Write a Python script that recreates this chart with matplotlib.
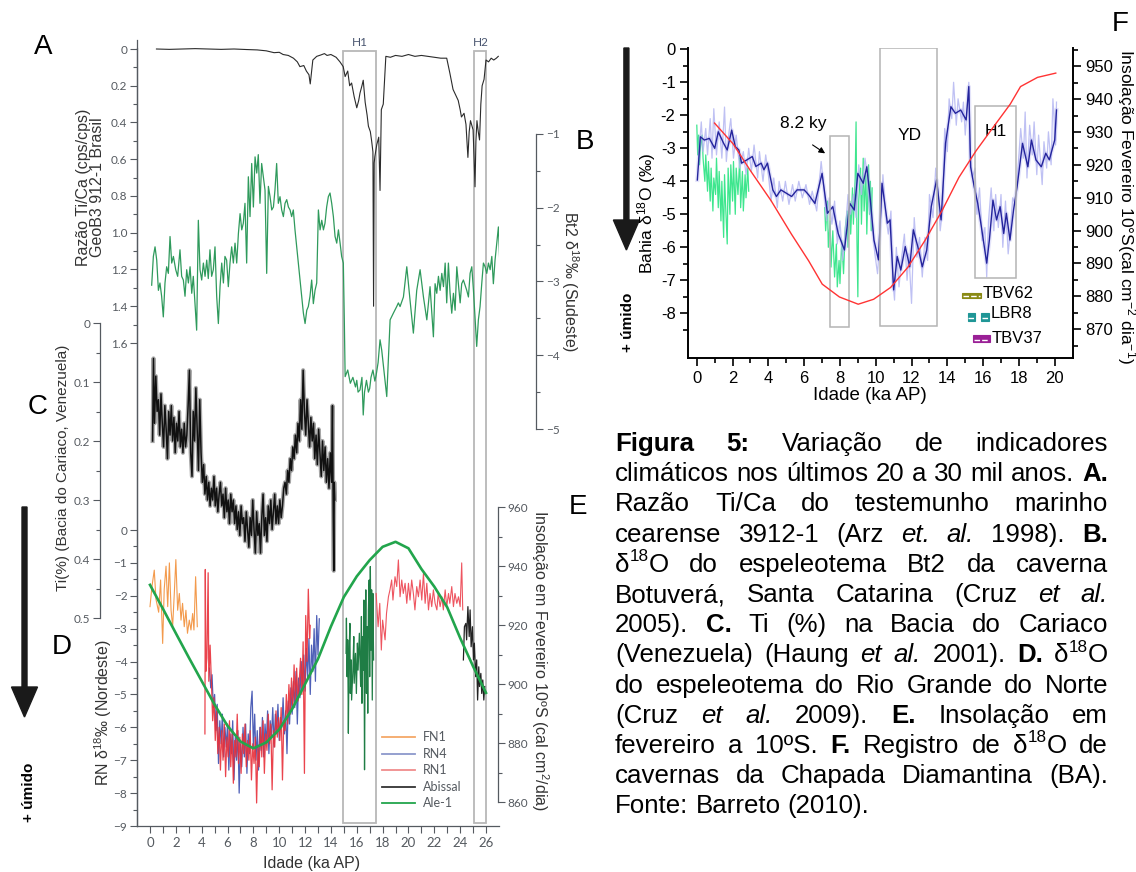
import numpy as np
import matplotlib
matplotlib.use("Agg")
import matplotlib.pyplot as plt
from matplotlib.patches import Rectangle, FancyArrow
from matplotlib.lines import Line2D
from matplotlib.transforms import blended_transform_factory
from matplotlib.font_manager import FontProperties

plt.rcParams['font.family'] = ['Liberation Sans', 'DejaVu Sans']
plt.rcParams['mathtext.fontset'] = 'custom'
plt.rcParams['mathtext.rm'] = 'Liberation Sans'
plt.rcParams['mathtext.it'] = 'Liberation Sans:italic'
plt.rcParams['mathtext.bf'] = 'Liberation Sans:bold'

# ======================= DATA =======================
# A: Ti/Ca GeoB3912-1 (age ka, cps/cps)
A_pts = [(0.5,0.0),(1.5,0.002),(2.5,0.0),(3.5,-0.002),(4.5,0.0),(5.5,0.002),(6.5,0.0),(7.5,0.003),
         (8.3,0.005),(9.0,0.01),(9.6,0.02),(10.0,0.018),(10.3,0.03),(10.7,0.035),(11.1,0.05),(11.4,0.07),
         (11.6,0.096),(11.9,0.09),(12.1,0.12),(12.3,0.14),(12.4,0.19),(12.6,0.06),(12.9,0.04),(13.2,0.033),
         (13.5,0.025),(13.7,0.035),(14.0,0.03),(14.4,0.045),(14.7,0.07),(14.95,0.096),(15.1,0.15),(15.3,0.12),
         (15.45,0.2),(15.6,0.185),(15.8,0.26),(16.0,0.32),(16.15,0.28),(16.25,0.24),(16.4,0.2),(16.5,0.17),
         (16.65,0.29),(16.8,0.36),(16.9,0.42),(17.05,0.45),(17.15,0.5),(17.25,0.56),(17.3,1.40),(17.35,0.62),
         (17.4,0.585),(17.55,0.52),(17.7,0.48),(17.8,0.77),(17.9,0.33),(18.05,0.3),(18.25,0.04),(18.6,0.045),
         (19.0,0.035),(19.5,0.04),(20.0,0.03),(20.5,0.04),(21.0,0.035),(21.5,0.04),(22.0,0.045),(22.5,0.05),
         (22.96,0.05),(23.2,0.13),(23.45,0.22),(23.65,0.25),(23.85,0.28),(24.0,0.33),(24.1,0.37),(24.3,0.35),
         (24.45,0.41),(24.6,0.59),(24.7,0.45),(24.8,0.39),(25.0,0.44),(25.08,0.6),(25.15,0.75),(25.22,0.5),
         (25.3,0.39),(25.4,0.45),(25.5,0.495),(25.6,0.3),(25.7,0.2),(25.85,0.165),(26.0,0.06),(26.2,0.07),
         (26.4,0.05),(26.6,0.06),(26.8,0.05),(26.95,0.04)]

# B: Bt2 d18O Botuvera (age ka, permil)
B_pts = [(0.13,-3.05),(0.26,-2.66),(0.39,-2.53),(0.52,-2.71),(0.65,-3.12),(0.77,-3.02),(0.9,-3.2),(1.03,-3.48),
         (1.16,-3.02),(1.29,-2.8),(1.42,-2.89),(1.55,-2.39),(1.68,-2.75),(1.81,-2.66),(1.99,-2.84),(2.14,-2.93),
         (2.32,-2.57),(2.45,-2.93),(2.58,-2.98),(2.71,-3.2),(2.84,-2.84),(2.97,-3.02),(3.1,-2.8),(3.23,-3.16),
         (3.35,-2.93),(3.48,-3.3),(3.61,-3.66),(3.74,-2.17),(3.87,-2.84),(4.0,-2.98),(4.13,-2.75),(4.26,-2.93),
         (4.39,-2.71),(4.51,-2.96),(4.64,-2.57),(4.77,-2.93),(4.9,-2.84),(5.03,-2.53),(5.16,-3.2),(5.29,-3.57),
         (5.42,-3.07),(5.55,-2.75),(5.68,-3.02),(5.8,-2.66),(5.93,-2.71),(6.06,-3.07),(6.19,-2.75),(6.32,-2.53),
         (6.45,-2.75),(6.58,-2.48),(6.71,-2.75),(6.84,-2.35),(6.97,-2.08),(7.1,-2.3),(7.22,-2.21),(7.35,-1.94),
         (7.48,-2.75),(7.61,-1.58),(7.74,-2.12),(7.87,-1.4),(8.0,-1.99),(8.13,-1.31),(8.26,-1.53),(8.38,-1.28),
         (8.51,-1.94),(8.64,-1.4),(8.77,-1.58),(8.9,-1.76),(9.03,-2.89),(9.16,-1.71),(9.29,-1.85),(9.42,-2.03),
         (9.55,-1.99),(9.67,-1.76),(9.8,-1.4),(9.93,-1.94),(10.06,-1.85),(10.19,-2.03),(10.32,-2.12),(10.45,-1.94),
         (10.58,-1.89),(10.71,-1.99),(10.84,-2.03),(10.96,-2.12),(11.09,-2.03),(11.22,-2.3),(11.35,-2.53),
         (11.48,-2.75),(11.61,-2.98),(11.74,-3.2),(11.87,-3.43),(12.0,-3.57),(12.13,-3.39),(12.25,-3.34),
         (12.38,-3.2),(12.51,-2.98),(12.64,-3.3),(12.77,-3.12),(12.9,-3.02),(13.03,-2.03),(13.16,-2.3),
         (13.29,-2.17),(13.42,-2.3),(13.54,-2.21),(13.67,-1.99),(13.8,-1.85),(13.93,-1.8),(14.06,-1.94),
         (14.19,-2.12),(14.32,-2.39),(14.45,-2.48),(14.58,-2.3),(14.71,-2.48),(14.83,-2.66),(14.96,-2.75),
         (15.04,-3.57),(15.1,-4.29),(15.3,-4.2),(15.5,-4.38),(15.7,-4.3),(15.9,-4.43),(16.0,-4.34),(16.1,-4.5),
         (16.25,-4.47),(16.4,-4.3),(16.5,-4.81),(16.6,-4.5),(16.75,-4.34),(16.9,-4.5),(17.0,-4.45),(17.1,-4.3),
         (17.25,-4.2),(17.4,-4.35),(17.5,-4.27),(17.65,-4.1),(17.8,-3.79),(17.93,-3.93),(18.1,-4.2),(18.32,-4.56),
         (18.58,-3.52),(18.83,-3.43),(19.09,-3.34),(19.22,-3.29),(19.35,-3.34),(19.61,-3.21),(19.87,-2.8),
         (20.12,-3.25),(20.38,-3.7),(20.64,-3.12),(20.9,-2.84),(21.16,-3.21),(21.42,-3.52),(21.67,-3.07),
         (21.93,-3.75),(22.06,-3.03),(22.19,-3.16),(22.32,-2.93),(22.45,-3.12),(22.58,-2.89),(22.71,-3.07),
         (22.84,-2.75),(22.96,-3.29),(23.09,-2.75),(23.22,-3.16),(23.35,-3.43),(23.48,-3.16),(23.61,-3.39),
         (23.74,-2.8),(24.0,-3.29),(24.12,-3.03),(24.25,-2.98),(24.51,-3.12),(24.64,-3.21),(24.77,-2.89),
         (24.9,-2.8),(25.03,-3.12),(25.15,-3.48),(25.28,-3.88),(25.41,-3.52),(25.54,-3.34),(25.67,-3.03),
         (25.8,-2.75),(25.93,-2.8),(26.06,-2.89),(26.19,-2.75),(26.32,-2.84),(26.45,-2.66),(26.57,-3.03),
         (26.7,-2.71),(26.83,-2.48),(26.96,-2.26),(27.09,-2.84)]

# C: Ti (%) Cariaco basin (age ka, %)
C_pts = [(0.2,0.2),(0.27,0.06),(0.35,0.17),(0.45,0.09),(0.55,0.15),(0.65,0.13),(0.75,0.19),(0.85,0.12),
         (0.95,0.17),(1.05,0.21),(1.15,0.14),(1.25,0.18),(1.35,0.23),(1.45,0.15),(1.55,0.19),(1.65,0.14),
         (1.75,0.2),(1.85,0.16),(1.95,0.22),(2.05,0.17),(2.15,0.2),(2.25,0.15),(2.35,0.21),(2.45,0.18),
         (2.55,0.22),(2.65,0.17),(2.75,0.21),(2.85,0.19),(2.95,0.14),(3.05,0.08),(3.15,0.22),(3.25,0.26),
         (3.35,0.15),(3.45,0.2),(3.55,0.11),(3.65,0.18),(3.75,0.25),(3.85,0.13),(3.95,0.22),(4.05,0.27),
         (4.15,0.24),(4.25,0.29),(4.35,0.26),(4.45,0.3),(4.55,0.27),(4.65,0.31),(4.75,0.28),(4.85,0.3),
         (4.95,0.26),(5.05,0.31),(5.15,0.28),(5.25,0.32),(5.35,0.29),(5.45,0.27),(5.55,0.31),(5.65,0.29),
         (5.75,0.33),(5.85,0.28),(5.95,0.32),(6.05,0.3),(6.15,0.34),(6.25,0.29),(6.35,0.32),(6.45,0.3),
         (6.55,0.34),(6.65,0.31),(6.75,0.35),(6.85,0.32),(6.95,0.36),(7.05,0.31),(7.15,0.34),(7.25,0.33),
         (7.35,0.37),(7.45,0.32),(7.55,0.35),(7.65,0.38),(7.75,0.33),(7.85,0.36),(7.95,0.3),(8.05,0.35),
         (8.15,0.39),(8.25,0.32),(8.35,0.36),(8.45,0.34),(8.55,0.39),(8.65,0.33),(8.75,0.29),(8.85,0.36),
         (8.95,0.33),(9.05,0.37),(9.15,0.31),(9.25,0.34),(9.35,0.3),(9.45,0.35),(9.55,0.32),(9.65,0.29),
         (9.75,0.34),(9.85,0.31),(9.95,0.34),(10.05,0.3),(10.15,0.33),(10.25,0.31),(10.35,0.28),(10.45,0.27),
         (10.55,0.29),(10.65,0.25),(10.75,0.27),(10.85,0.23),(10.95,0.25),(11.05,0.21),(11.15,0.23),
         (11.25,0.19),(11.35,0.22),(11.45,0.17),(11.55,0.2),(11.65,0.13),(11.75,0.18),(11.85,0.08),
         (11.95,0.15),(12.05,0.19),(12.15,0.13),(12.25,0.17),(12.35,0.21),(12.45,0.16),(12.55,0.2),
         (12.65,0.17),(12.75,0.23),(12.85,0.19),(12.95,0.24),(13.05,0.18),(13.15,0.22),(13.25,0.26),
         (13.35,0.2),(13.45,0.25),(13.55,0.21),(13.65,0.27),(13.75,0.23),(13.85,0.28),(13.95,0.22),
         (14.05,0.27),(14.12,0.14),(14.18,0.33),(14.22,0.42),(14.26,0.27),(14.3,0.3)]

# D: RN d18O records (age ka, permil)
FN1_pts = [(0.0,-2.33),(0.15,-1.72),(0.33,-1.22),(0.46,-2.1),(0.67,-2.5),(0.82,-1.52),(0.98,-3.45),
           (1.1,-1.8),(1.24,-1.1),(1.37,-2.33),(1.5,-1.0),(1.63,-2.44),(1.75,-2.94),(1.88,-1.93),(2.0,-0.9),
           (2.14,-2.44),(2.27,-1.93),(2.4,-2.74),(2.52,-2.23),(2.65,-2.94),(2.78,-2.44),(2.9,-3.14),
           (3.04,-2.74),(3.17,-3.04),(3.3,-2.54),(3.4,-3.04),(3.53,-1.42),(3.66,-2.94)]
RN4_pts = [(4.6,-4.2),(4.7,-4.8),(4.8,-4.4),(4.9,-5.4),(5.0,-5.0),(5.1,-6.1),(5.2,-5.3),(5.3,-7.1),(5.4,-5.8),
           (5.5,-6.5),(5.6,-5.6),(5.7,-6.9),(5.8,-6.0),(5.9,-6.6),(6.0,-5.9),(6.1,-7.3),(6.2,-6.2),(6.3,-6.8),
           (6.4,-5.8),(6.5,-7.6),(6.6,-6.3),(6.7,-7.0),(6.8,-6.1),(6.9,-8.0),(7.0,-6.5),(7.1,-7.2),(7.2,-6.0),
           (7.3,-6.9),(7.4,-5.9),(7.5,-7.4),(7.6,-6.2),(7.7,-6.8),(7.8,-5.4),(7.9,-4.9),(8.0,-6.6),(8.1,-5.6),
           (8.2,-7.0),(8.3,-6.1),(8.4,-7.3),(8.5,-6.0),(8.6,-6.7),(8.7,-5.7),(8.8,-6.9),(8.9,-5.9),(9.0,-6.5),
           (9.1,-5.5),(9.2,-6.8),(9.3,-5.8),(9.4,-6.3),(9.5,-5.4),(9.6,-6.6),(9.7,-5.6),(9.8,-6.2),(9.9,-5.3),
           (10.0,-6.4),(10.1,-5.7),(10.2,-6.0),(10.3,-5.1),(10.4,-6.2),(10.5,-5.5),(10.6,-6.8),(10.7,-5.2),
           (10.8,-5.9),(10.9,-4.8),(11.0,-5.6),(11.1,-4.6),(11.2,-5.4),(11.3,-4.3),(11.4,-5.9),(11.5,-4.5),
           (11.6,-5.1),(11.7,-4.0),(11.8,-4.8),(11.9,-3.8),(12.0,-4.9),(12.1,-3.6),(12.2,-4.5),(12.3,-3.3),
           (12.4,-5.0),(12.5,-3.5),(12.6,-4.3),(12.7,-3.0),(12.8,-4.6),(12.9,-2.6),(13.0,-3.8),(13.1,-2.7)]
RN1_holo = [(4.25,-6.2),(4.28,-1.2),(4.32,-4.3),(4.4,-3.9),(4.5,-1.3),(4.55,-4.6),(4.65,-3.5),(4.75,-4.6),
            (4.85,-5.8),(4.95,-5.1),(5.05,-6.4),(5.15,-5.5),(5.25,-6.8),(5.35,-6.0),(5.45,-7.3),(5.55,-6.1),
            (5.65,-7.0),(5.75,-5.9),(5.85,-7.5),(5.95,-6.3),(6.05,-6.9),(6.15,-5.8),(6.25,-7.2),(6.35,-6.2),
            (6.45,-7.7),(6.55,-6.4),(6.65,-6.9),(6.75,-5.6),(6.85,-7.1),(6.95,-6.3),(7.05,-7.4),(7.15,-6.2),
            (7.25,-6.8),(7.35,-5.9),(7.45,-7.2),(7.55,-6.4),(7.65,-7.0),(7.75,-6.1),(7.85,-7.6),(7.95,-6.5),
            (8.05,-7.1),(8.15,-6.3),(8.25,-8.3),(8.35,-6.6),(8.45,-7.2),(8.55,-6.0),(8.65,-6.9),(8.75,-5.8),
            (8.85,-7.4),(8.95,-6.2),(9.05,-6.7),(9.15,-5.6),(9.25,-6.5),(9.35,-5.9),(9.45,-7.9),(9.55,-6.1),
            (9.65,-6.6),(9.75,-5.5),(9.85,-6.3),(9.95,-5.7),(10.05,-6.4),(10.15,-5.4),(10.25,-7.6),(10.35,-5.8),
            (10.45,-6.1),(10.55,-5.0),(10.65,-5.9),(10.75,-4.7),(10.85,-5.6),(10.95,-4.5),(11.05,-5.4),
            (11.15,-4.1),(11.25,-5.2),(11.35,-4.2),(11.45,-5.2),(11.55,-4.6),(11.65,-3.9),(11.75,-5.0),
            (11.85,-3.4),(11.95,-7.4),(12.05,-2.6),(12.15,-4.0),(12.25,-1.8),(12.35,-3.3),(12.4,-2.9)]
RN1_glac = [(17.5,-1.93),(17.65,-2.94),(17.78,-2.23),(17.9,-3.65),(18.0,-2.74),(18.19,-3.34),(18.3,-2.54),
            (18.45,-2.03),(18.57,-1.82),(18.7,-1.52),(18.8,-2.13),(18.96,-1.42),(19.09,-1.72),(19.22,-0.91),
            (19.35,-2.03),(19.48,-1.52),(19.6,-1.93),(19.74,-1.62),(19.87,-2.23),(20.0,-1.62),(20.12,-2.13),
            (20.25,-1.52),(20.38,-1.93),(20.5,-2.43),(20.64,-1.72),(20.77,-2.03),(20.9,-1.52),(21.03,-2.13),
            (21.16,-1.32),(21.29,-2.23),(21.42,-1.62),(21.55,-2.43),(21.67,-1.93),(21.8,-2.33),(21.93,-1.82),
            (22.06,-2.23),(22.2,-2.43),(22.3,-1.93),(22.45,-2.33),(22.58,-2.03),(22.7,-2.43),(22.84,-1.82),
            (22.96,-2.33),(23.1,-1.93),(23.2,-2.23),(23.35,-1.72),(23.48,-2.33),(23.6,-1.93),(23.74,-2.23),
            (23.87,-2.03),(24.0,-2.33),(24.12,-1.0),(24.2,-2.43)]
Abissal_pts = [(24.25,-3.95),(24.33,-2.94),(24.44,-2.84),(24.5,-3.34),(24.6,-2.33),(24.7,-3.24),(24.77,-2.43),
               (24.85,-3.55),(24.95,-2.94),(25.03,-3.95),(25.1,-3.44),(25.2,-4.46),(25.28,-3.95),(25.35,-5.17),
               (25.44,-4.16),(25.5,-4.76),(25.6,-4.36),(25.67,-4.97),(25.75,-4.56),(25.83,-5.17),(25.9,-4.76)]
Ale1_pts = [(15.17,-3.75),(15.2,-2.68),(15.25,-4.46),(15.3,-3.34),(15.35,-6.18),(15.4,-3.85),(15.47,-2.84),
            (15.5,-4.97),(15.57,-3.95),(15.6,-5.17),(15.7,-4.26),(15.77,-3.24),(15.8,-4.66),(15.9,-3.75),
            (15.97,-4.97),(16.05,-3.44),(16.1,-4.26),(16.2,-3.14),(16.3,-4.76),(16.36,-2.63),(16.4,-5.27),
            (16.45,-3.24),(16.5,-4.26),(16.55,-2.13),(16.6,-7.29),(16.65,-3.75),(16.7,-1.82),(16.75,-4.97),
            (16.8,-2.94),(16.85,-5.57),(16.9,-2.43),(16.96,-1.52),(17.0,-4.46),(17.05,-1.11),(17.1,-3.65),
            (17.15,-1.82),(17.2,-5.17),(17.25,-1.93),(17.3,-3.95)]
# E: February insolation 10S (cal cm-2 day-1)
E_pts = [(0,933.6),(1,925.5),(2,917.2),(3,909),(4,901),(5,893),(6,885.8),(7,880.5),(8,878.2),(9,880.2),
         (10,884.6),(11,891.5),(12,900),(13,908.5),(14,919.5),(15,929.5),(16,936.5),(17,942),(18,946.5),
         (19,948.2),(20,946),(21,939),(22,933),(23,926),(24,915.6),(25,906),(26,897)]

# F: Bahia speleothems
F_blue = [(0.03,-3.96),(0.2,-2.65),(0.42,-2.75),(0.7,-2.7),(1.0,-3.0),(1.2,-2.5),(1.5,-2.85),(1.7,-3.05),
          (1.95,-2.45),(2.15,-2.95),(2.35,-3.05),(2.5,-3.45),(2.8,-3.35),(3.1,-3.25),(3.3,-3.55),(3.6,-3.45),
          (3.75,-3.65),(3.95,-3.45),(4.25,-4.26),(4.45,-4.46),(4.7,-4.26),(5.0,-4.36),(5.3,-4.46),(5.6,-4.26),
          (6.0,-4.26),(6.25,-4.41),(6.6,-4.67),(7.0,-3.76),(7.3,-4.97),(7.6,-4.77),(7.9,-5.58),(8.25,-6.08),
          (8.55,-4.67),(8.8,-4.87),(9.0,-3.76),(9.3,-4.06),(9.5,-3.56),(9.7,-4.57),(9.9,-5.78),(10.15,-6.38),
          (10.35,-4.06),(10.65,-5.27),(10.8,-5.17),(11.0,-7.29),(11.2,-6.28),(11.4,-6.69),(11.65,-5.98),
          (11.9,-6.59),(12.1,-5.47),(12.35,-5.98),(12.6,-6.59),(12.85,-6.08),(13.1,-4.77),(13.4,-3.96),
          (13.65,-5.17),(13.9,-2.85),(14.2,-1.74),(14.45,-1.94),(14.75,-1.84),(15.05,-2.14),(15.2,-1.13),
          (15.3,-3.56),(15.5,-4.16),(15.7,-4.67),(15.9,-5.37),(16.2,-6.48),(16.35,-5.78),(16.55,-4.57),
          (16.75,-5.17),(16.95,-4.77),(17.15,-5.58),(17.3,-4.97),(17.5,-5.78),(17.7,-4.87),(17.9,-4.16),
          (18.2,-2.85),(18.5,-3.56),(18.7,-2.75),(18.95,-3.35),(19.25,-3.56),(19.5,-3.15),(19.7,-3.35),
          (20.0,-2.75),(20.1,-1.84)]
F_blue_raw = [(0.1,-3.3),(0.25,-2.2),(0.35,-3.1),(0.5,-2.4),(0.6,-3.2),(0.75,-2.1),(0.85,-3.3),(0.95,-1.8),
              (1.1,-3.2),(1.25,-2.2),(1.4,-3.3),(1.55,-1.75),(1.65,-3.4),(1.8,-2.5),(1.9,-2.1),(2.05,-3.3),
              (2.2,-2.6),(2.4,-3.6),(2.6,-3.1),(2.75,-3.8),(2.9,-3.0),(3.05,-3.7),(3.2,-2.9),(3.4,-3.9),
              (3.5,-3.1),(3.7,-4.0),(3.85,-3.2),(4.0,-3.8),(4.15,-4.6),(4.3,-3.9),(4.5,-4.8),(4.6,-4.0),
              (4.8,-4.6),(4.95,-4.0),(5.15,-4.7),(5.35,-4.1),(5.5,-4.6),(5.7,-4.0),(5.9,-4.5),(6.1,-4.1),
              (6.3,-4.7),(6.45,-4.3),(6.7,-4.9),(6.85,-4.0),(6.95,-3.4),(7.1,-4.2),(7.25,-5.2),(7.4,-4.5),
              (7.55,-5.3),(7.7,-4.6),(7.85,-5.9),(8.0,-5.2),(8.15,-6.4),(8.3,-5.5),(8.45,-4.4),(8.6,-5.0),
              (8.75,-4.4),(8.9,-5.1),(9.05,-3.5),(9.2,-4.4),(9.4,-3.3),(9.55,-3.9),(9.65,-4.9),(9.8,-5.3),
              (9.95,-6.2),(10.1,-6.8),(10.25,-5.6),(10.4,-3.8),(10.55,-5.0),(10.7,-5.6),(10.85,-4.9),
              (10.95,-7.0),(11.05,-7.6),(11.15,-6.0),(11.3,-7.2),(11.45,-6.3),(11.6,-5.6),(11.75,-7.0),
              (11.85,-6.2),(12.0,-7.7),(12.15,-5.1),(12.3,-6.3),(12.45,-5.7),(12.6,-6.9),(12.75,-5.7),
              (12.9,-6.4),(13.0,-4.4),(13.2,-5.1),(13.35,-3.6),(13.5,-4.4),(13.6,-5.5),(13.75,-4.8),
              (13.85,-2.4),(14.0,-3.1),(14.1,-1.5),(14.25,-2.1),(14.35,-1.0),(14.5,-2.3),(14.6,-1.5),
              (14.8,-2.2),(14.9,-1.6),(15.0,-2.6),(15.1,-1.9),(15.2,-1.0),(15.25,-3.0),(15.4,-3.9),
              (15.55,-3.6),(15.65,-5.0),(15.8,-4.2),(15.95,-5.8),(16.1,-5.4),(16.2,-6.9),(16.3,-5.2),
              (16.45,-4.2),(16.6,-5.5),(16.7,-4.4),(16.85,-5.4),(17.0,-4.4),(17.1,-6.0),(17.25,-4.6),
              (17.4,-6.2),(17.55,-5.3),(17.65,-4.5),(17.8,-4.7),(17.95,-3.6),(18.1,-2.4),(18.25,-3.3),
              (18.35,-1.9),(18.45,-3.9),(18.6,-2.3),(18.75,-3.2),(18.85,-2.2),(19.0,-3.8),(19.1,-2.6),
              (19.3,-4.1),(19.4,-2.8),(19.55,-3.6),(19.65,-2.5),(19.8,-3.5),(19.9,-1.5),(20.05,-2.9),(20.1,-1.6)]
F_green_a = [(0.0,-2.3),(0.05,-3.2),(0.1,-2.6),(0.15,-3.5),(0.2,-3.0),(0.3,-2.6),(0.35,-3.3),(0.45,-4.0),
             (0.5,-3.2),(0.6,-4.3),(0.65,-3.4),(0.75,-4.6),(0.8,-3.6),(0.9,-4.9),(0.95,-3.9),(1.05,-4.4),
             (1.1,-3.3),(1.2,-4.8),(1.25,-3.7),(1.35,-5.2),(1.4,-4.0),(1.5,-5.7),(1.55,-3.8),(1.6,-4.6),
             (1.7,-5.9),(1.75,-3.6),(1.85,-5.0),(1.9,-3.5),(2.0,-4.6),(2.05,-3.4),(2.15,-5.0),(2.2,-3.6),
             (2.3,-4.4),(2.4,-3.3),(2.45,-4.8),(2.55,-3.7),(2.6,-4.9),(2.7,-3.8),(2.75,-4.5),(2.85,-3.6),(2.9,-4.3)]
F_green_b = [(7.15,-4.8),(7.2,-5.5),(7.3,-4.6),(7.35,-6.0),(7.45,-5.2),(7.5,-6.6),(7.6,-5.5),(7.7,-6.9),
             (7.8,-5.9),(7.85,-7.2),(7.95,-6.4),(8.0,-7.1),(8.1,-5.8),(8.2,-6.8),(8.3,-5.4),(8.4,-4.9),
             (8.45,-6.0),(8.55,-4.6),(8.6,-5.6),(8.7,-4.2),(8.75,-5.3),(8.85,-3.9),(8.9,-2.2),(8.95,-5.8),
             (9.0,-7.5),(9.05,-4.6),(9.15,-3.6),(9.2,-5.3),(9.3,-3.3),(9.35,-4.9),(9.45,-3.8),(9.5,-5.6),
             (9.6,-3.5),(9.65,-5.0),(9.7,-4.0),(9.75,-5.5),(9.8,-4.2)]
F_insol = [(0.99,932.7),(2.04,926.3),(3.0,918.2),(4.15,909.1),(5.29,898.9),(6.25,890.8),(7.01,883.7),
           (7.97,879.8),(9.02,877.6),(9.88,879.1),(10.83,882.7),(11.79,888.8),(12.74,896.9),(13.7,906.0),
           (14.65,916.2),(15.61,924.3),(16.56,931.4),(17.52,938.5),(18.09,943.8),(19.04,946.6),(20.06,947.9)]

left_xticks = list(range(0, 27, 2))
F_xticks = list(range(0, 21, 2))

# ======================= FIGURE =======================
W, H = 1136, 872
fig = plt.figure(figsize=(W / 100, H / 100), dpi=100)
fig.patch.set_facecolor('white')


def frect(x0, y0, x1, y1):
    return [x0 / W, 1 - y1 / H, (x1 - x0) / W, (y1 - y0) / H]


def lin(v0, p0, v1, p1, p):
    return v0 + (p - p0) * (v1 - v0) / (p1 - p0)


def xy(pts):
    return [p[0] for p in pts], [p[1] for p in pts]


def blank(rect, xlim, ylim):
    ax = fig.add_axes(rect)
    ax.set_xlim(*xlim)
    ax.set_ylim(*ylim)
    ax.patch.set_visible(False)
    for s in ax.spines.values():
        s.set_visible(False)
    ax.tick_params(which='both', left=False, right=False, top=False, bottom=False,
                   labelleft=False, labelright=False, labelbottom=False, labeltop=False)
    return ax


TC = '#555a60'
TFONT = ['Lato', 'DejaVu Sans']


def style_y(ax, side, major, labels, minor, pos=None, bounds=None, size=8.5):
    sp = ax.spines[side]
    sp.set_visible(True)
    sp.set_color(TC)
    sp.set_linewidth(0.9)
    if pos is not None:
        sp.set_position(('axes', pos))
    if bounds is not None:
        sp.set_bounds(*bounds)
    ax.set_yticks(major, labels)
    ax.set_yticks(minor, minor=True)
    kw = dict(left=True, labelleft=True) if side == 'left' else dict(right=True, labelright=True)
    ax.tick_params(axis='y', which='both', direction='out', color=TC, labelcolor=TC,
                   labelsize=size, width=0.8, **kw)
    ax.tick_params(axis='y', which='major', length=5, pad=2)
    ax.tick_params(axis='y', which='minor', length=3)
    for t in ax.get_yticklabels():
        t.set_family(TFONT)


# ---------- left composite panel ----------
LX0, LX1, LY0, LY1 = 137, 499, 40, 826
xlimL = (lin(0, 150, 26, 486, LX0), lin(0, 150, 26, 486, LX1))
rectL = frect(LX0, LY0, LX1, LY1)


def ylim_of(v0, p0, v1, p1):
    return (lin(v0, p0, v1, p1, LY1), lin(v0, p0, v1, p1, LY0))


M = '\u2212'

# D axis (base, with bottom age axis)
axD = blank(rectL, xlimL, ylim_of(0, 530, -9, 826))
style_y(axD, 'left', list(range(0, -10, -1)), ['0'] + [M + str(i) for i in range(1, 10)],
        [-0.5 - i for i in range(9)], bounds=(-9, lin(0, 530, -9, 826, 48)))
axD.spines['bottom'].set_visible(True)
axD.spines['bottom'].set_color(TC)
axD.spines['bottom'].set_linewidth(0.9)
axD.set_xticks(left_xticks, [str(v) for v in left_xticks])
axD.set_xticks(list(range(1, 27, 2)), minor=True)
axD.tick_params(axis='x', which='both', bottom=True, labelbottom=True, direction='out', color=TC,
                labelcolor=TC, labelsize=9.5, width=0.8, length=5, pad=3)
for t in axD.get_xticklabels():
    t.set_family(TFONT)

# H1 / H2 boxes
bt = blended_transform_factory(axD.transData, axD.transAxes)
yb, yt = (LY1 - 823) / (LY1 - LY0), (LY1 - 51) / (LY1 - LY0)
for (x0, x1) in [(14.94, 17.49), (25.08, 26.0)]:
    axD.add_patch(Rectangle((x0, yb), x1 - x0, yt - yb, transform=bt, fill=False,
                            edgecolor='#b8b8b8', lw=1.3, zorder=0, clip_on=False))

ax = axD
x, y = xy(FN1_pts); ax.plot(x, y, color='#f39a4c', lw=0.8)
x, y = xy(RN4_pts); ax.plot(x, y, color='#3c4fb0', lw=0.9, alpha=0.9)
x, y = xy(RN1_holo); ax.plot(x, y, color='#e8303a', lw=0.9, alpha=0.9)
x, y = xy(RN1_glac); ax.plot(x, y, color='#ee5560', lw=0.8)
x, y = xy(Ale1_pts); ax.plot(x, y, color='#1f7d45', lw=0.9)
x, y = xy(Abissal_pts); ax.plot(x, y, color='#222222', lw=0.9)

# C axis
axC = blank(rectL, xlimL, ylim_of(0, 323, 0.5, 618))
style_y(axC, 'left', [0, 0.1, 0.2, 0.3, 0.4, 0.5], ['0', '0.1', '0.2', '0.3', '0.4', '0.5'],
        [0.05, 0.15, 0.25, 0.35, 0.45], pos=(100 - LX0) / (LX1 - LX0), bounds=(0, 0.5))
x, y = xy(C_pts)
axC.plot(x, y, color='#8a8a8a', lw=3.0, alpha=0.75)
axC.plot(x, y, color='#111111', lw=1.1)

# A axis
axA = blank(rectL, xlimL, ylim_of(0, 49, 1.6, 343))
style_y(axA, 'left', [0, 0.2, 0.4, 0.6, 0.8, 1.0, 1.2, 1.4, 1.6],
        ['0', '0.2', '0.4', '0.6', '0.8', '1.0', '1.2', '1.4', '1.6'],
        [0.1, 0.3, 0.5, 0.7, 0.9, 1.1, 1.3, 1.5])
x, y = xy(A_pts)
axA.plot(x, y, color='#2b2b2b', lw=0.8)

# B axis
axB = blank(rectL, xlimL, ylim_of(-1, 134, -5, 429))
style_y(axB, 'right', [-1, -2, -3, -4, -5], [M + str(i) for i in range(1, 6)],
        [-1.5, -2.5, -3.5, -4.5], pos=(536 - LX0) / (LX1 - LX0), bounds=(-5, -1))
x, y = xy(B_pts)
axB.plot(x, y, color='#2f9a5c', lw=0.9)

# E axis
axE = blank(rectL, xlimL, ylim_of(960, 507, 860, 802))
style_y(axE, 'right', [960, 940, 920, 900, 880, 860], ['960', '940', '920', '900', '880', '860'],
        [950, 930, 910, 890, 870], pos=(498 - LX0) / (LX1 - LX0), bounds=(860, 960))
x, y = xy(E_pts)
axE.plot(x, y, color='#22a54c', lw=1.9)


def ftext(px, py, s, **kw):
    return fig.text(px / W, 1 - py / H, s, **kw)


# legend (manual, D panel)
leg = [('FN1', '#f5a868'), ('RN4', '#8c98cc'), ('RN1', '#f08c8c'), ('Abissal', '#333333'), ('Ale-1', '#22a54c')]
for i, (lab, col) in enumerate(leg):
    yy = 737 + i * 16.5
    fig.add_artist(Line2D([382 / W, 415 / W], [1 - yy / H] * 2, color=col, lw=1.3))
    ftext(423, yy, lab, fontsize=9, color=TC, va='center', ha='left', family=TFONT)

# labels for left panel
LBL = '#333333'
ftext(360, 42, 'H1', fontsize=8.5, color='#4a5670', ha='center', va='center', family=TFONT)
ftext(481, 42, 'H2', fontsize=8.5, color='#4a5670', ha='center', va='center', family=TFONT)
ftext(90.5, 187, 'Razão Ti/Ca (cps/cps)\nGeoB3 912-1 Brasil', fontsize=11.5, rotation=90,
      ha='center', va='center', color=LBL, linespacing=0.95)
ftext(570, 282, 'Bt2 δ$^{18}$‰ (Sudeste)', fontsize=11.5, rotation=-90, ha='center', va='center', color=LBL)
ftext(63, 468, 'Ti(%) (Bacia do Cariaco, Venezuela)', fontsize=11, rotation=90, ha='center', va='center', color=LBL)
ftext(103.5, 713, 'RN δ$^{18}$‰ (Nordeste)', fontsize=11.5, rotation=90, ha='center', va='center', color=LBL)
ftext(540, 660, 'Insolação em Fevereiro 10ºS (cal cm$^{2}$/dia)', fontsize=11.5, rotation=-90,
      ha='center', va='center', color=LBL)
ftext(312, 863, 'Idade (ka AP)', fontsize=11.5, ha='center', va='center', color=LBL)

for s, px, py in [('A', 43, 47), ('B', 585, 142), ('C', 38, 407), ('D', 62, 647), ('E', 578, 507), ('F', 1120, 24)]:
    ftext(px, py, s, fontsize=20, ha='center', va='center', color='black')

# wet arrows
def wet_arrow(xc, ytop, ytip, head_w=26, head_l=30, shaft=5):
    fig.add_artist(FancyArrow(xc / 100, (H - ytop) / 100, 0, -(ytip - ytop) / 100, width=shaft / 100,
                              head_width=head_w / 100, head_length=head_l / 100, length_includes_head=True,
                              color='#1a1a1a', transform=fig.dpi_scale_trans))

wet_arrow(24.5, 507, 717)
ftext(29, 792, '+ úmido', fontsize=11, fontweight='bold', rotation=90, ha='center', va='center')
wet_arrow(626.4, 48, 250)
ftext(628, 322, '+ úmido', fontsize=11, fontweight='bold', rotation=90, ha='center', va='center')

# ---------- panel F ----------
FX0, FX1, FY0, FY1 = 688, 1073, 48, 358
axF = fig.add_axes(frect(FX0, FY0, FX1, FY1))
axF.set_xlim(lin(0, 696.8, 20, 1054.7, FX0), lin(0, 696.8, 20, 1054.7, FX1))
axF.set_ylim(lin(0, 49.3, -8, 313.3, FY1), lin(0, 49.3, -8, 313.3, FY0))
axF.patch.set_visible(False)
axF.spines['top'].set_visible(False)
axF.spines['right'].set_visible(False)
for s in ('left', 'bottom'):
    axF.spines[s].set_linewidth(1.4)
axF.set_xticks(F_xticks, [str(v) for v in F_xticks])
axF.set_xticks(list(range(1, 21, 2)), minor=True)
axF.set_yticks(list(range(0, -9, -1)), ['0'] + ['-' + str(i) for i in range(1, 9)])
axF.set_yticks([-0.5 - i for i in range(9)], minor=True)
axF.tick_params(which='both', direction='out', width=1.2, labelsize=12)
axF.tick_params(which='major', length=6, pad=3)
axF.tick_params(which='minor', length=3.5)

axF2 = axF.twinx()
axF2.set_ylim(lin(950, 66.2, 870, 329.2, FY1), lin(950, 66.2, 870, 329.2, FY0))
for s in ('top', 'left', 'bottom'):
    axF2.spines[s].set_visible(False)
axF2.spines['right'].set_linewidth(1.4)
axF2.set_yticks(list(range(870, 951, 10)), [str(v) for v in range(870, 951, 10)])
axF2.set_yticks(list(range(865, 956, 10)), minor=True)
axF2.tick_params(which='both', direction='out', width=1.2, labelsize=12)
axF2.tick_params(which='major', length=6, pad=3)
axF2.tick_params(which='minor', length=3.5)

x, y = xy(F_green_a); axF.plot(x, y, color='#3ee68e', lw=0.9)
x, y = xy(F_green_b); axF.plot(x, y, color='#3ee68e', lw=0.9)
x, y = xy(F_blue_raw)
axF.plot(x, y, color='#b4b6f2', lw=0.9, alpha=0.85)
x, y = xy(F_blue)
axF.plot(x, y, color='#a8a8f0', lw=3.0, alpha=0.3, solid_joinstyle='round')
axF.plot(x, y, color='#24249c', lw=1.0)
x, y = xy(F_insol)
axF2.plot(x, y, color='#ff3333', lw=1.0)

for (x0, x1, y0, y1) in [(7.45, 8.48, -8.42, -2.63), (10.26, 13.41, -8.38, 0.05), (15.57, 17.86, -6.92, -1.72)]:
    axF.add_patch(Rectangle((x0, y0), x1 - x0, y1 - y0, fill=False, edgecolor='#b4b4b4', lw=1.1, zorder=3))
axF.text(5.96, -2.24, '8.2 ky', fontsize=12.5, ha='center', va='center')
axF.text(11.9, -2.6, 'YD', fontsize=12.5, ha='center', va='center')
axF.text(16.7, -2.5, 'H1', fontsize=12.5, ha='center', va='center')
axF.annotate('', xy=(7.3, -3.2), xytext=(6.34, -2.85),
             arrowprops=dict(arrowstyle='-|>', color='black', lw=0.8, mutation_scale=9))

bars = [('TBV62', '#8a8a14', [(14.8, 15.86)], -7.55, -7.37, -7.4),
        ('LBR8', '#1f9696', [(15.13, 15.57), (15.86, 16.31)], -8.22, -8.0, -8.0),
        ('TBV37', '#9a2096', [(15.42, 16.37)], -8.88, -8.66, -8.76)]
for name, col, spans, y0, y1, ty in bars:
    for (a, b) in spans:
        axF.add_patch(Rectangle((a, y0), b - a, y1 - y0, facecolor=col, edgecolor=col, lw=0.8, zorder=4))
        axF.plot([a + 0.05, b - 0.05], [y0 + (y1 - y0) * 0.35] * 2, color='white', lw=1.0,
                 dashes=(4, 1.5), zorder=5)
    axF.text(spans[-1][1] + 0.1, ty, name, fontsize=12, ha='left', va='center')

ftext(647, 213, 'Bahia δ$^{18}$O (‰)', fontsize=12.5, rotation=90, ha='center', va='center')
ftext(1126, 206, 'Insolação Fevereiro 10°S(cal cm$^{-2}$ dia$^{-1}$)', fontsize=12.5, rotation=-90,
      ha='center', va='center')
ftext(870, 395, 'Idade (ka AP)', fontsize=13.5, ha='center', va='center')

# ---------- caption (justified) ----------
cap_lines = [
    "**Figura** **5:** Variação de indicadores",
    "climáticos nos últimos 20 a 30 mil anos. **A.**",
    "Razão Ti/Ca do testemunho marinho",
    "cearense 3912-1 (Arz *et.* *al.* 1998). **B.**",
    "δ^18^O do espeleotema Bt2 da caverna",
    "Botuverá, Santa Catarina (Cruz *et* *al.*",
    "2005). **C.** Ti (%) na Bacia do Cariaco",
    "(Venezuela) (Haung *et* *al.* 2001). **D.** δ^18^O",
    "do espeleotema do Rio Grande do Norte",
    "(Cruz *et* *al.* 2009). **E.** Insolação em",
    "fevereiro a 10ºS. **F.** Registro de δ^18^O de",
    "cavernas da Chapada Diamantina (BA).",
    "Fonte: Barreto (2010).",
]
CAP_L, CAP_R, CAP_Y0, CAP_DY = 615, 1108, 451, 30.2

renderer = fig.canvas.get_renderer()


def prop(style, fs):
    return FontProperties(family='Liberation Sans', size=fs * (0.66 if style == 'sup' else 1.0),
                          weight='bold' if style == 'b' else 'normal',
                          style='italic' if style == 'i' else 'normal')


def seg_w(text, style, fs):
    w, h, d = renderer.get_text_width_height_descent(text, prop(style, fs), ismath=False)
    return w


def parse(word):
    if word.startswith('**'):
        return [(word[2:-2], 'b')]
    if word.startswith('*'):
        return [(word[1:-1], 'i')]
    if '^' in word:
        a, b, c = word.split('^')
        segs = []
        if a:
            segs.append((a, 'n'))
        segs.append((b, 'sup'))
        if c:
            segs.append((c, 'n'))
        return segs
    return [(word, 'n')]


def word_w(segs, fs):
    return sum(seg_w(t, s, fs) for t, s in segs)


def space_w(fs):
    return seg_w('a a', 'n', fs) - seg_w('aa', 'n', fs)


# font size chosen so that line 2 (natural spacing) fills the column
ref_words = [parse(w) for w in cap_lines[1].split(' ')]
nat18 = sum(word_w(s, 18) for s in ref_words) + space_w(18) * (len(ref_words) - 1)
CAP_FS = 18 * 490 / nat18

for li, line in enumerate(cap_lines):
    words = [parse(w) for w in line.split(' ')]
    widths = [word_w(s, CAP_FS) for s in words]
    if li == len(cap_lines) - 1:
        gap = space_w(CAP_FS)
    else:
        gap = (CAP_R - CAP_L - sum(widths)) / (len(words) - 1)
    xc = CAP_L
    yb = CAP_Y0 + li * CAP_DY
    for segs, wd in zip(words, widths):
        xs = xc
        for t, s in segs:
            yy = yb - (0.42 * CAP_FS * 100 / 72 if s == 'sup' else 0)
            fig.text(xs / W, 1 - yy / H, t, fontproperties=prop(s, CAP_FS), va='baseline', ha='left',
                     color='black')
            xs += seg_w(t, s, CAP_FS)
        xc += wd + gap

fig.savefig('out.png', dpi=100, facecolor='white')
